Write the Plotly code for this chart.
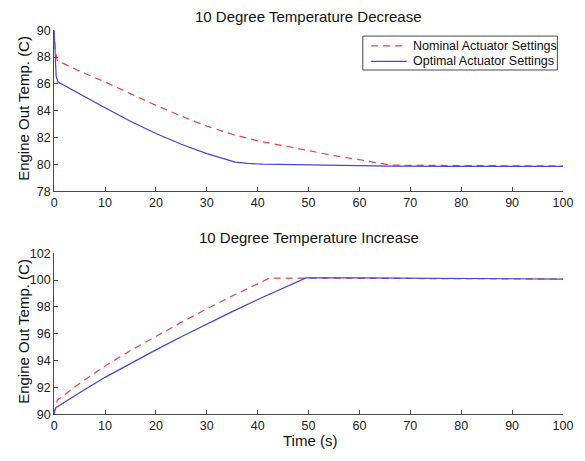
import plotly.graph_objects as go

# ---- data -------------------------------------------------------------
# Upper panel: 10 degree temperature decrease
dec_nom_t = [0, 0.2, 0.6, 5, 10, 15, 20, 25, 30, 35, 40, 45, 50, 55, 60, 63, 66, 70, 80, 90, 100]
dec_nom_v = [90, 88.6, 87.75, 86.95, 86.15, 85.25, 84.4, 83.6, 82.85, 82.25, 81.75, 81.4, 81.0,
             80.65, 80.35, 80.15, 79.95, 79.93, 79.91, 79.89, 79.88]

dec_opt_t = [0, 0.2, 0.4, 0.77, 5, 10, 15, 20, 25, 30, 35.6, 38, 41, 50, 60, 66, 80, 100]
dec_opt_v = [90, 87.5, 86.55, 86.14, 85.25, 84.22, 83.22, 82.3, 81.5, 80.8, 80.17, 80.07, 80.02,
             79.95, 79.9, 79.87, 79.86, 79.85]

# Lower panel: 10 degree temperature increase
inc_nom_t = [0, 0.6, 5, 10, 15, 20, 25, 30, 35, 40, 42.3, 50, 60, 70, 80, 90, 100]
inc_nom_v = [90, 91.05, 92.3, 93.6, 94.75, 95.82, 96.85, 97.85, 98.82, 99.72, 100.15, 100.15,
             100.14, 100.13, 100.12, 100.1, 100.08]

inc_opt_t = [0, 0.1, 0.4, 1.0, 2.0, 5, 10, 15, 20, 25, 30, 35, 40, 45, 49.5, 60, 70, 80, 90, 100]
inc_opt_v = [90, 90.3, 90.5, 90.65, 90.88, 91.6, 92.75, 93.8, 94.8, 95.78, 96.74, 97.65, 98.55,
             99.38, 100.17, 100.16, 100.14, 100.12, 100.1, 100.08]

series_names = ["Nominal Actuator Settings", "Optimal Actuator Settings"]
x_ticks = list(range(0, 101, 10))
panel_titles = ["10 Degree Temperature Decrease", "10 Degree Temperature Increase"]
y_title = "Engine Out Temp. (C)"
x_title = "Time (s)"

# ---- styling ----------------------------------------------------------
W, H = 585, 461
FONT = "Arial, Liberation Sans, sans-serif"
RED = "#e8454c"
BLUE = "#4444e2"
AX = "#4a4a4a"
DASH = "7px,5px"

fig = go.Figure()

nom_line = dict(color=RED, width=1.2, dash=DASH)
opt_line = dict(color=BLUE, width=1.2)

fig.add_trace(go.Scatter(x=dec_nom_t, y=dec_nom_v, mode="lines", line=nom_line,
                         name=series_names[0], xaxis="x", yaxis="y"))
fig.add_trace(go.Scatter(x=dec_opt_t, y=dec_opt_v, mode="lines", line=opt_line,
                         name=series_names[1], xaxis="x", yaxis="y"))
fig.add_trace(go.Scatter(x=inc_nom_t, y=inc_nom_v, mode="lines", line=nom_line,
                         name=series_names[0], xaxis="x2", yaxis="y2"))
fig.add_trace(go.Scatter(x=inc_opt_t, y=inc_opt_v, mode="lines", line=opt_line,
                         name=series_names[1], xaxis="x2", yaxis="y2"))

x_dom = [52.3 / W, 572.7 / W]
top_dom = [1 - 190 / H, 1 - 24 / H]
bot_dom = [1 - 420 / H, 1 - 254 / H]

axis_common = dict(
    showline=True, linecolor=AX, linewidth=1, mirror=False,
    ticks="inside", ticklen=4, tickcolor=AX, tickwidth=1,
    showgrid=False, zeroline=False,
    tickfont=dict(family=FONT, size=12.5, color="#222"),
)

fig.update_layout(
    width=W, height=H,
    margin=dict(l=0, r=0, t=0, b=0),
    paper_bgcolor="white", plot_bgcolor="white",
    font=dict(family=FONT, color="#111"),
    xaxis=dict(domain=x_dom, range=[0, 100], tickvals=x_ticks, anchor="y", **axis_common),
    yaxis=dict(domain=top_dom, range=[78, 90], dtick=2, anchor="x", **axis_common),
    xaxis2=dict(domain=x_dom, range=[0, 100], tickvals=x_ticks, anchor="y2", **axis_common),
    yaxis2=dict(domain=bot_dom, range=[90, 102], dtick=2, anchor="x2", **axis_common),
    showlegend=False,
)

# ---- legend box for the upper panel (compact, boxed) ------------------
def px(x):
    return x / W


def py(y):
    return 1 - y / H


box = dict(x0=368, x1=567, y0=30, y1=65)
fig.add_shape(type="rect", xref="paper", yref="paper",
              x0=px(box["x0"]), x1=px(box["x1"]), y0=py(box["y1"]), y1=py(box["y0"]),
              line=dict(color=AX, width=1), fillcolor="white", layer="above")
rows = [(40, nom_line), (56, opt_line)]
for (row_y, style), label in zip(rows, series_names):
    fig.add_shape(type="line", xref="paper", yref="paper",
                  x0=px(376.5), x1=px(413), y0=py(row_y), y1=py(row_y),
                  line=dict(color=style["color"], width=1.2, dash=style.get("dash", "solid")),
                  layer="above")
    fig.add_annotation(text=label, xref="paper", yref="paper", x=px(417), y=py(row_y),
                       xanchor="left", yanchor="middle", showarrow=False,
                       font=dict(family=FONT, size=12.5, color="#111"))

# ---- titles ------------------------------------------------------------
xc = (x_dom[0] + x_dom[1]) / 2
annots = [
    dict(text=panel_titles[0], x=xc, y=py(9.3)),
    dict(text=panel_titles[1], x=xc, y=py(237.3)),
    dict(text=x_title, x=px(313.5), y=py(446.7)),
    dict(text=y_title, x=px(21.5), y=py(105), textangle=-90),
    dict(text=y_title, x=px(21.5), y=py(335), textangle=-90),
]
for a in annots:
    a.update(xref="paper", yref="paper", xanchor="center", yanchor="middle", showarrow=False,
             font=dict(family=FONT, size=15, color="#111"))
    fig.add_annotation(**a)

fig.write_html("out.html")
